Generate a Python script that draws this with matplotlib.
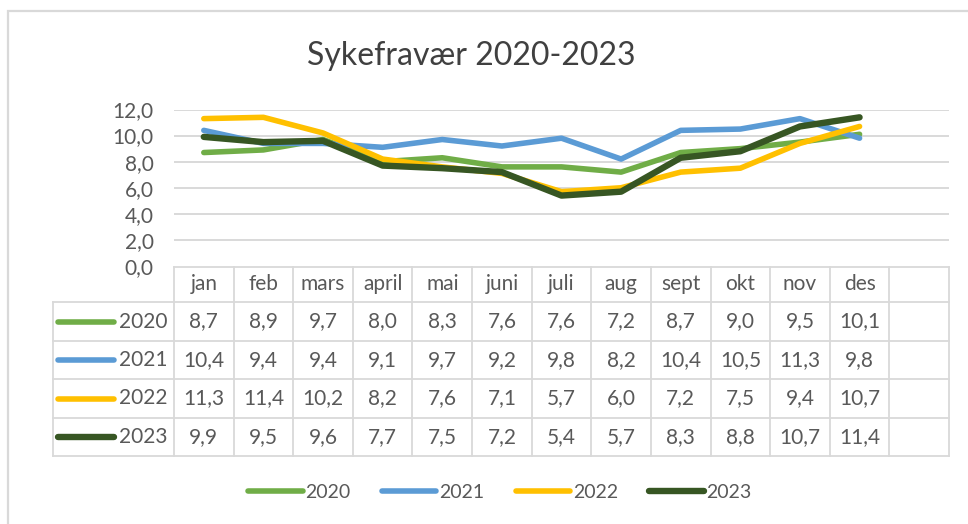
import matplotlib
matplotlib.use("Agg")
import matplotlib.pyplot as plt
from matplotlib.lines import Line2D
from matplotlib.patches import Rectangle
from matplotlib.ticker import FuncFormatter
import matplotlib.transforms as mtransforms

months = ["jan", "feb", "mars", "april", "mai", "juni", "juli", "aug",
          "sept", "okt", "nov", "des", ""]
years = ["2020", "2021", "2022", "2023"]
v2020 = [8.7, 8.9, 9.7, 8.0, 8.3, 7.6, 7.6, 7.2, 8.7, 9.0, 9.5, 10.1]
v2021 = [10.4, 9.4, 9.4, 9.1, 9.7, 9.2, 9.8, 8.2, 10.4, 10.5, 11.3, 9.8]
v2022 = [11.3, 11.4, 10.2, 8.2, 7.6, 7.1, 5.7, 6.0, 7.2, 7.5, 9.4, 10.7]
v2023 = [9.9, 9.5, 9.6, 7.7, 7.5, 7.2, 5.4, 5.7, 8.3, 8.8, 10.7, 11.4]
series = [v2020, v2021, v2022, v2023]
colors = ["#70AD47", "#5B9BD5", "#FFC000", "#375623"]
widths = [4.0, 4.0, 4.0, 4.6]

plt.rcParams["font.family"] = ["Lato", "DejaVu Sans"]
TXT = "#595959"
GRID = "#d9d9d9"

W, H = 968, 524
fig = plt.figure(figsize=(W / 100, H / 100), dpi=100)

def fy(px):
    return 1 - px / H

# chart frame
fig.patches.append(Rectangle((8 / W, -0.05), 1.1, fy(11) + 0.05, transform=fig.transFigure,
                             fill=False, edgecolor=GRID, lw=1.6))

ax = fig.add_axes([174 / W, fy(266), 775 / W, (266 - 109.5) / H])
ax.set_xlim(-0.5, len(months) - 0.5)
ax.set_ylim(0, 12)
for s in ax.spines.values():
    s.set_visible(False)
ax.set_xticks([])
ax.set_yticks(range(0, 13, 2))
ax.yaxis.set_major_formatter(FuncFormatter(lambda v, p: f"{v:.1f}".replace(".", ",")))
ax.tick_params(axis="y", length=0, pad=14.5, labelsize=15, labelcolor=TXT)
for yv in range(2, 13, 2):
    ax.axhline(yv, color=GRID, lw=1.4, zorder=0)

for vals, c, lw in zip(series, colors, widths):
    ax.plot(range(len(vals)), vals, color=c, lw=lw, solid_capstyle="round",
            solid_joinstyle="round", zorder=3)

fig.suptitle("Sykefravær 2020-2023", x=471 / W, y=fy(56), va="center",
             fontsize=23, color="#404040")

# data table under the axis
tr = mtransforms.blended_transform_factory(ax.transData, fig.transFigure)
rows_px = [267, 302, 341, 379, 418, 456]
label_left = -0.5 - (174 - 53) / (775 / len(months))
right = len(months) - 0.5
tkw = dict(transform=tr, clip_on=False, color=GRID, lw=1.3)

ax.add_line(Line2D([-0.5, right], [fy(rows_px[0])] * 2, **tkw))
for ypx in rows_px[1:]:
    ax.add_line(Line2D([label_left, right], [fy(ypx)] * 2, **tkw))
for i in range(len(months) + 1):
    ax.add_line(Line2D([i - 0.5] * 2, [fy(rows_px[0]), fy(rows_px[-1])], **tkw))
ax.add_line(Line2D([label_left] * 2, [fy(rows_px[1]), fy(rows_px[-1])], **tkw))

hy = fy((rows_px[0] + rows_px[1]) / 2)
for i, m in enumerate(months):
    ax.text(i, hy, m, transform=tr, ha="center", va="center", fontsize=15, color=TXT)

sw0 = label_left + (58 - 53) / (775 / len(months))
sw1 = label_left + (114 - 53) / (775 / len(months))
for r, (yr, vals, c) in enumerate(zip(years, series, colors)):
    cy = fy((rows_px[r + 1] + rows_px[r + 2]) / 2)
    ax.add_line(Line2D([sw0, sw1], [cy, cy], transform=tr, clip_on=False, color=c,
                       lw=widths[r], solid_capstyle="round"))
    ax.text(-0.5 - 6 / 59.6, cy, yr, transform=tr, ha="right", va="center",
            fontsize=15, color=TXT)
    for i, v in enumerate(vals):
        ax.text(i, cy, f"{v:.1f}".replace(".", ","), transform=tr, ha="center",
                va="center", fontsize=15, color=TXT)

handles = [Line2D([], [], color=c, lw=lw, solid_capstyle="round")
           for c, lw in zip(colors, widths)]
fig.legend(handles, years, loc="center", bbox_to_anchor=(500 / W, fy(492)), ncol=4,
           frameon=False, fontsize=14, labelcolor=TXT, handlelength=2.8,
           handletextpad=0.15, columnspacing=1.6)

fig.savefig("out.png", dpi=100)
